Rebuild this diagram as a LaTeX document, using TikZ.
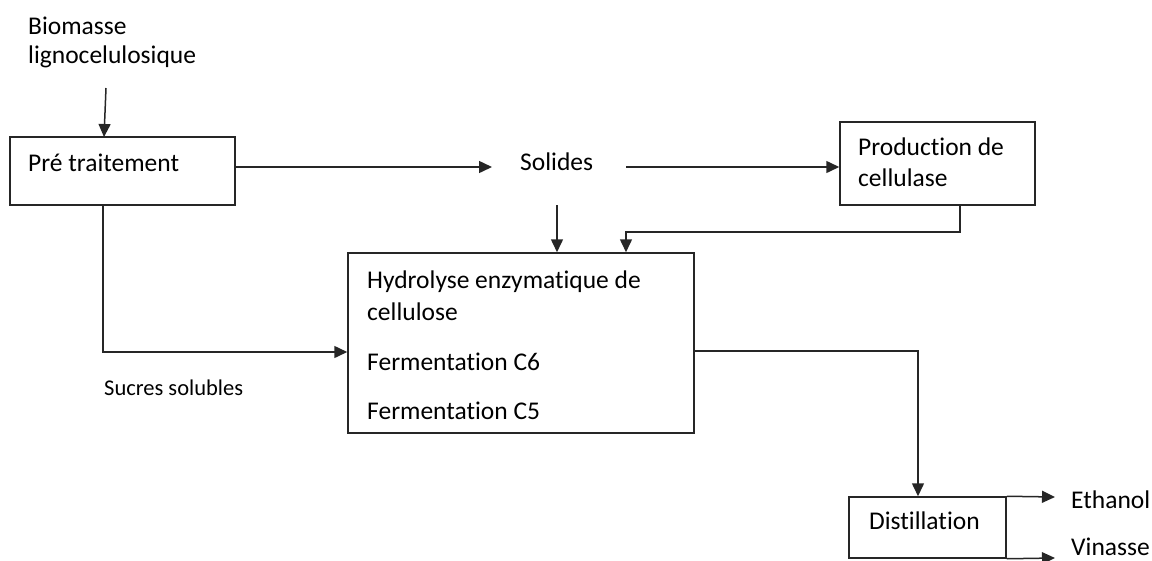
\documentclass[tikz,border=0pt]{standalone}
\usepackage{fontspec}
\setmainfont{Carlito}[Ligatures=NoCommon]
\usetikzlibrary{arrows.meta}
\tikzset{
  boxnode/.style={draw=black!85, line width=1.5pt, rectangle, inner sep=0pt},
  lbl/.style={anchor=base west, inner sep=0pt, font=\fontsize{25.5}{30}\selectfont},
  small/.style={anchor=base west, inner sep=0pt, font=\fontsize{22.5}{26}\selectfont},
  arr/.style={draw=black!85, line width=1.5pt, -{Triangle[length=13pt,width=12pt]}},
  ln/.style={draw=black!85, line width=1.5pt}
}
\begin{document}
\begin{tikzpicture}[x=1pt,y=-1pt]
\useasboundingbox (0,0) rectangle (1152,560);
% boxes
\node[boxnode, minimum width=225pt, minimum height=68pt] (pre) at (122.5,171) {};
\node[boxnode, minimum width=195pt, minimum height=83pt] (prod) at (937.5,163.5) {};
\node[boxnode, minimum width=346pt, minimum height=180pt] (hyd) at (521,343) {};
\node[boxnode, minimum width=157pt, minimum height=61pt] (dist) at (927.5,527.5) {};
% texts
\node[lbl] (bio1) at (28,34) {Biomasse};
\node[lbl] (bio2) at (28,63) {lignocelulosique};
\node[lbl] (pret) at (28,171) {Pré traitement};
\node[lbl] (sol) at (520,170) {Solides};
\node[lbl] (prod1) at (858,155) {Production de};
\node[lbl] (prod2) at (858,186) {cellulase};
\node[lbl] (hyd1) at (367,288) {Hydrolyse enzymatique de};
\node[lbl] (hyd2) at (367,320) {cellulose};
\node[lbl] (hyd3) at (367,370) {Fermentation C6};
\node[lbl] (hyd4) at (367,419) {Fermentation C5};
\node[small] (suc) at (104,395) {Sucres solubles};
\node[lbl] (distt) at (869,529) {Distillation};
\node[lbl] (eth) at (1071,508) {Ethanol};
\node[lbl] (vin) at (1071,555) {Vinasse};
% connector end points
\coordinate (bioB) at (106,88);
\coordinate (preIn) at (104,137);
\coordinate (solL) at (492,167);
\coordinate (solR) at (626,167);
\coordinate (solB) at (557,205);
\coordinate (prodOut) at (960,205);
\coordinate (prodTurn) at (960,232);
\coordinate (hydIn2) at (626,232);
\coordinate (preOut) at (103,205);
\coordinate (preTurn) at (103,352);
\coordinate (hydOut) at (694,351);
\coordinate (hydTurn) at (918,351);
\coordinate (ethEnd) at (1055,497);
\coordinate (vinEnd) at (1055,558);
% connectors
\draw[arr] (bioB) -- (preIn);
\draw[arr] (pre.east |- solL) -- (solL);
\draw[arr] (solR) -- (prod.west |- solR);
\draw[arr] (solB) -- (solB |- hyd.north);
\draw[arr] (prodOut) -- (prodTurn) -- (hydIn2) -- (hydIn2 |- hyd.north);
\draw[arr] (preOut) -- (preTurn) -- (hyd.west |- preTurn);
\draw[arr] (hydOut) -- (hydTurn) -- (hydTurn |- dist.north);
\draw[arr] (dist.north east) -- (ethEnd);
\draw[arr] (dist.south east) -- (vinEnd);
\end{tikzpicture}
\end{document}
